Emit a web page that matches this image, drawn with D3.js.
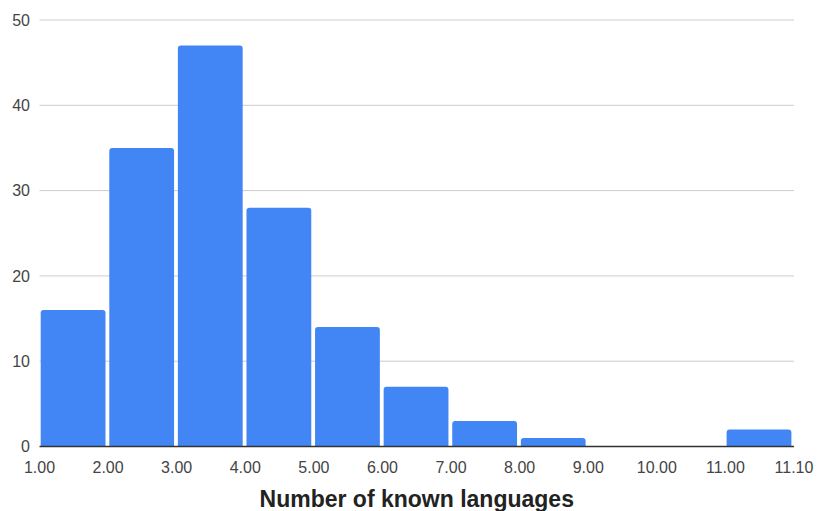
<!DOCTYPE html>
<html>
<head>
<meta charset="utf-8">
<script src="https://cdn.jsdelivr.net/npm/d3@7"></script>
<style>
  html, body { margin: 0; padding: 0; background: #fff; }
  svg { display: block; font-family: "Liberation Sans", Arial, sans-serif; }
</style>
</head>
<body>
<svg id="chart" width="818" height="511"></svg>
<script>
// Histogram of how many languages each respondent knows
const binEdges = ["1.00", "2.00", "3.00", "4.00", "5.00", "6.00", "7.00", "8.00", "9.00", "10.00", "11.00", "11.10"];
const counts = [16, 35, 47, 28, 14, 7, 3, 1, 0, 0, 2];
const yTicks = [0, 10, 20, 30, 40, 50];
const xTitle = "Number of known languages";

const svg = d3.select("#chart");
const plotLeft = 39.5, plotRight = 794, plotTop = 20, plotBottom = 446.5;

// One equal-width band per bin, edges labelled at the band boundaries
const x = d3.scaleLinear().domain([0, counts.length]).range([plotLeft, plotRight]);
const y = d3.scaleLinear().domain([0, 50]).range([plotBottom, plotTop]);

// Horizontal gridlines
svg.append("g")
  .selectAll("line")
  .data(yTicks.filter(d => d > 0))
  .join("line")
  .attr("x1", plotLeft).attr("x2", plotRight)
  .attr("y1", d => y(d)).attr("y2", d => y(d))
  .attr("stroke", "#cccccc").attr("stroke-width", 1);

// Y tick labels
svg.append("g")
  .selectAll("text")
  .data(yTicks)
  .join("text")
  .attr("x", 30).attr("y", d => y(d))
  .attr("dy", "0.36em")
  .attr("text-anchor", "end")
  .attr("font-size", 16)
  .attr("fill", "#444")
  .text(d => d);

// Bars with rounded top corners
function barPath(x0, x1, yTop, yBase, r) {
  const h = yBase - yTop;
  r = Math.min(r, h, (x1 - x0) / 2);
  return `M${x0},${yBase} L${x0},${yTop + r} Q${x0},${yTop} ${x0 + r},${yTop}` +
         ` L${x1 - r},${yTop} Q${x1},${yTop} ${x1},${yTop + r} L${x1},${yBase} Z`;
}

svg.append("g")
  .selectAll("path")
  .data(counts.map((c, i) => ({ c, i })).filter(d => d.c > 0))
  .join("path")
  .attr("d", d => barPath(x(d.i) + 1.2, x(d.i + 1) - 2.6, y(d.c), plotBottom, 3))
  .attr("fill", "#4285f4");

// Baseline
svg.append("line")
  .attr("x1", plotLeft).attr("x2", plotRight)
  .attr("y1", plotBottom).attr("y2", plotBottom)
  .attr("stroke", "#333").attr("stroke-width", 1.5);

// X tick labels at bin edges
svg.append("g")
  .selectAll("text")
  .data(binEdges)
  .join("text")
  .attr("x", (d, i) => x(i))
  .attr("y", 473)
  .attr("text-anchor", "middle")
  .attr("font-size", 16)
  .attr("fill", "#444")
  .text(d => d);

// Axis title
svg.append("text")
  .attr("x", (plotLeft + plotRight) / 2)
  .attr("y", 507)
  .attr("text-anchor", "middle")
  .attr("font-size", 23)
  .attr("font-weight", "bold")
  .attr("fill", "#222")
  .text(xTitle);
</script>
</body>
</html>
